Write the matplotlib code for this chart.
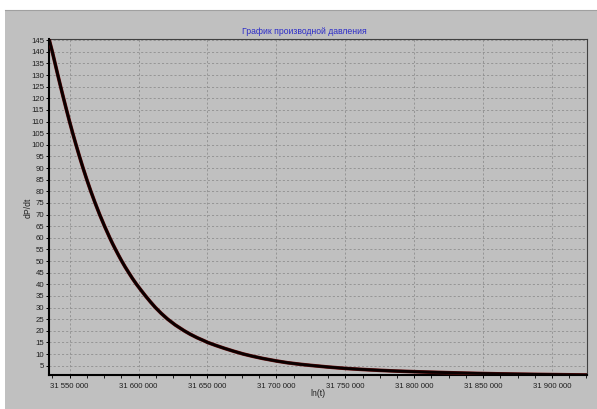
import numpy as np
import matplotlib.pyplot as plt
from matplotlib.ticker import MultipleLocator, FuncFormatter
from matplotlib.patches import Rectangle
from matplotlib.lines import Line2D

# ln(t) samples and the pressure derivative
t = [31535000, 31537400, 31539400, 31541400, 31543450, 31545550, 31547700,
     31549900, 31552200, 31554600, 31557100, 31559700, 31562450, 31565350,
     31568450, 31571750, 31575300, 31579100, 31581100, 31583250, 31585450,
     31587750, 31590200, 31592850, 31595550, 31598500, 31601700, 31605000,
     31608500, 31612200, 31616400, 31621100, 31626600, 31633100, 31637500,
     31642500, 31647500, 31650000, 31656000, 31662500, 31669000, 31676000,
     31683000, 31690000, 31700000, 31708000, 31716900, 31725000, 31737500,
     31750000, 31762500, 31775000, 31787500, 31800000, 31812500, 31825000,
     31837500, 31850000, 31862500, 31875000, 31887500, 31900000, 31912500,
     31925400]
dpdt = [145.5, 140, 135, 130, 125, 120, 115,
        110, 105, 100, 95, 90, 85, 80,
        75, 70, 65, 60, 57.5, 55, 52.5,
        50, 47.5, 45, 42.5, 40, 37.5, 35,
        32.5, 30, 27.5, 25, 22.5, 20, 18.5,
        17, 15.7, 15, 13.7, 12.4, 11.2, 10,
        9.0, 8.1, 7.0, 6.25, 5.6, 5.1, 4.4,
        3.8, 3.35, 2.97, 2.65, 2.4, 2.17, 1.96,
        1.77, 1.6, 1.46, 1.34, 1.24, 1.15, 1.06,
        0.97]

title = 'График производной давления'
xlabel = 'ln(t)'
ylabel = 'dP/dt'

GRAY = '#c0c0c0'
plt.rcParams['font.family'] = ['Liberation Sans', 'DejaVu Sans']

fig = plt.figure(figsize=(5.97, 4.09), dpi=100, facecolor='white')
W, H = 597, 409

# window panel under the chart
fig.patches.append(Rectangle((5 / W, 0), 1, 1 - 10 / H, transform=fig.transFigure,
                             facecolor=GRAY, edgecolor='none', zorder=-2))
fig.add_artist(Line2D([5 / W, 1], [1 - 9.5 / H, 1 - 9.5 / H], transform=fig.transFigure,
                      color='#a0a0a0', lw=0.8))

ax = fig.add_axes([49 / W, (H - 375) / H, (587 - 49) / W, (375 - 39) / H])
ax.set_facecolor(GRAY)

ax.plot(t, dpdt, color='#6a1010', lw=2.6, solid_capstyle='butt', zorder=3)
ax.plot(t, dpdt, color='#0a0000', lw=2.0, solid_capstyle='butt', zorder=4)

ax.set_xlim(t[0], t[-1])
ax.set_ylim(min(dpdt), max(dpdt))

ax.xaxis.set_major_locator(MultipleLocator(50000))
ax.xaxis.set_minor_locator(MultipleLocator(12500))
ax.yaxis.set_major_locator(MultipleLocator(5))
ax.xaxis.set_major_formatter(FuncFormatter(lambda v, p: f'{v:,.0f}'.replace(',', ' ')))

ax.grid(True, which='major', color='#8e8e8e', lw=0.6, linestyle=(0, (2.5, 2.5)))
ax.tick_params(axis='both', which='major', length=2.5, width=0.7, colors='black',
               labelsize=5.6, labelcolor='#202020')
ax.tick_params(axis='x', which='minor', length=2.0, width=0.6, colors='black')
ax.tick_params(axis='x', pad=3)
ax.tick_params(axis='y', pad=1)

for side in ('left', 'bottom'):
    ax.spines[side].set_color('black')
    ax.spines[side].set_linewidth(1.5)
for side in ('top', 'right'):
    ax.spines[side].set_color('#404040')
    ax.spines[side].set_linewidth(0.8)

fig.text(304 / W, 1 - 31 / H, title, ha='center', va='center', fontsize=6.2, color='#2c2cc8')
fig.text(318 / W, 1 - 393 / H, xlabel, ha='center', va='center', fontsize=6.2, color='#202020')
fig.text(28 / W, 1 - 208 / H, ylabel, ha='center', va='center', fontsize=6.2,
         color='#202020', rotation=90)

fig.savefig('out.png', dpi=100, facecolor='white')
